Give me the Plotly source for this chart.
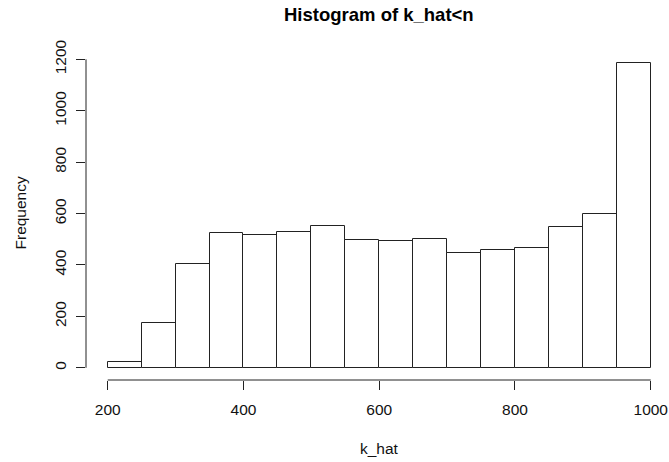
import plotly.graph_objects as go

# Data
bin_edges = [200, 250, 300, 350, 400, 450, 500, 550, 600, 650, 700, 750, 800, 850, 900, 950, 1000]
counts = [21, 176, 403, 524, 516, 527, 551, 496, 492, 500, 447, 457, 465, 548, 597, 1184]
x_ticks = [200, 400, 600, 800, 1000]
y_ticks = [0, 200, 400, 600, 800, 1000, 1200]

centers = [(a + b) / 2 for a, b in zip(bin_edges[:-1], bin_edges[1:])]
widths = [b - a for a, b in zip(bin_edges[:-1], bin_edges[1:])]

W, H = 669, 462
FONT = "Liberation Sans, Arial, sans-serif"

fig = go.Figure(go.Bar(
    x=centers, y=counts, width=widths,
    marker=dict(color="white", line=dict(color="#222", width=1)),
    showlegend=False, hoverinfo="x+y",
))

L, R, T, B = 86, 0, 51, 82
fig.update_layout(
    width=W, height=H,
    margin=dict(l=L, r=R, t=T, b=B),
    paper_bgcolor="white", plot_bgcolor="white",
    font=dict(family=FONT, color="#000"),
    bargap=0,
    xaxis=dict(range=[168, 1026.9], tickvals=x_ticks, ticktext=[str(v) for v in x_ticks],
               ticks="outside", ticklen=9, tickcolor="#222", tickwidth=1,
               showline=False, showgrid=False, zeroline=False,
               tickfont=dict(size=15.5, family=FONT, color="#111"), ticklabelstandoff=6),
    yaxis=dict(range=[-47.4, 1232.4], tickvals=y_ticks, ticktext=[str(v) for v in y_ticks],
               ticks="outside", ticklen=9, tickcolor="#222", tickwidth=1, tickangle=-90,
               showline=False, showgrid=False, zeroline=False,
               tickfont=dict(size=15.5, family=FONT, color="#111"), ticklabelstandoff=4),
    shapes=[
        dict(type="line", xref="x", yref="paper", x0=200, x1=1000, y0=0, y1=0,
             line=dict(color="#222", width=1)),
        dict(type="line", xref="paper", yref="y", x0=0, x1=0, y0=0, y1=1200,
             line=dict(color="#222", width=1)),
    ],
    annotations=[
        dict(text="<b>Histogram of k_hat&lt;n</b>", xref="paper", yref="paper",
             x=(379 - L) / (W - L - R), y=1 + (T - 14) / (H - T - B),
             xanchor="center", yanchor="middle", showarrow=False,
             font=dict(size=18.5, family=FONT, color="#000")),
        dict(text="Frequency", xref="paper", yref="paper",
             x=(20 - L) / (W - L - R), y=(380 - 213.5) / (H - T - B),
             xanchor="center", yanchor="middle", textangle=-90, showarrow=False,
             font=dict(size=15.5, family=FONT, color="#111")),
        dict(text="k_hat", xref="paper", yref="paper",
             x=(379 - L) / (W - L - R), y=(380 - 448) / (H - T - B),
             xanchor="center", yanchor="middle", showarrow=False,
             font=dict(size=15.5, family=FONT, color="#111")),
    ],
)

fig.write_html("out.html")
